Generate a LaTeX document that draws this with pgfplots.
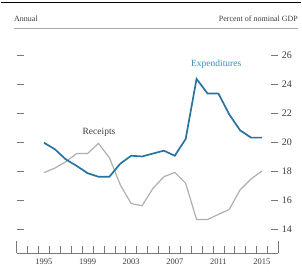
\documentclass[border=0pt]{standalone}
\usepackage{fontspec}
\setmainfont{Liberation Serif}
\usepackage{pgfplots}
\pgfplotsset{compat=1.18}
\definecolor{expblue}{RGB}{40,115,160}
\definecolor{explabel}{RGB}{55,140,185}
\definecolor{recgray}{RGB}{175,175,175}
\definecolor{tickgray}{RGB}{120,120,120}
\definecolor{txtgray}{RGB}{60,60,60}
\pgfplotstableread{
year exp rec
1995 19.95 17.88
1996 19.50 18.20
1997 18.80 18.63
1998 18.35 19.20
1999 17.85 19.20
2000 17.60 19.90
2001 17.60 18.92
2002 18.50 17.05
2003 19.05 15.75
2004 19.00 15.60
2005 19.20 16.80
2006 19.40 17.60
2007 19.05 17.90
2008 20.20 17.15
2009 24.35 14.65
2010 23.35 14.65
2011 23.35 15.00
2012 21.90 15.35
2013 20.80 16.70
2014 20.30 17.45
2015 20.30 18.00
}\data
\begin{document}
\begin{tikzpicture}
\path[use as bounding box] (0pt,0pt) rectangle (302pt,275pt);
\draw[line width=1.6pt, black] (1pt,272.3pt) -- (301pt,272.3pt);
\draw[line width=0.5pt, black!35] (14pt,246.7pt) -- (298pt,246.7pt);
\node[anchor=west, font=\fontsize{8}{9}\selectfont, text=txtgray, inner sep=0pt] at (14pt,256.5pt) {Annual};
\node[anchor=east, font=\fontsize{8}{9}\selectfont, text=txtgray, inner sep=0pt] at (298pt,256.5pt) {Percent of nominal GDP};
\begin{axis}[
  at={(16.7pt,22pt)}, anchor=south west,
  scale only axis, width=261.6pt, height=212.5pt,
  xmin=1992.5, xmax=2016.5, ymin=12.34, ymax=27.0,
  axis line style={draw=none},
  tick align=inside,
  major tick length=7pt, minor tick length=7pt,
  xtick={1995,1999,2003,2007,2011,2015},
  xticklabels={1995,1999,2003,2007,2011,2015},
  major x tick style={draw=none},
  minor xtick={1992.5,1993.5,...,2016.5},
  minor x tick style={draw=tickgray, line width=0.5pt},
  xtick pos=bottom,
  xticklabel style={font=\fontsize{8.5}{9}\selectfont, text=txtgray, yshift=-2pt},
  ytick={14,16,18,20,22,24,26},
  yticklabels={14,16,18,20,22,24,26},
  ytick pos=both, yticklabel pos=right,
  y tick style={draw=tickgray, line width=0.6pt},
  yticklabel style={font=\fontsize{10}{11}\selectfont, text=txtgray},
  clip=false,
]
\draw[tickgray, line width=0.6pt] (rel axis cs:0,0) -- (rel axis cs:1,0);
\draw[tickgray, line width=0.5pt] (rel axis cs:0,0) -- (rel axis cs:0,0.055);
\draw[tickgray, line width=0.5pt] (rel axis cs:1,0) -- (rel axis cs:1,0.055);
\addplot[recgray, line width=1.2pt, mark=none] table[x=year, y=rec] {\data};
\addplot[expblue, line width=1.7pt, mark=none] table[x=year, y=exp] {\data};
\node[font=\fontsize{9.5}{10}\selectfont, text=txtgray] at (axis cs:2000.05,20.69) {Receipts};
\node[font=\fontsize{9.5}{10}\selectfont, text=explabel] at (axis cs:2010.8,25.35) {Expenditures};
\end{axis}
\end{tikzpicture}
\end{document}
